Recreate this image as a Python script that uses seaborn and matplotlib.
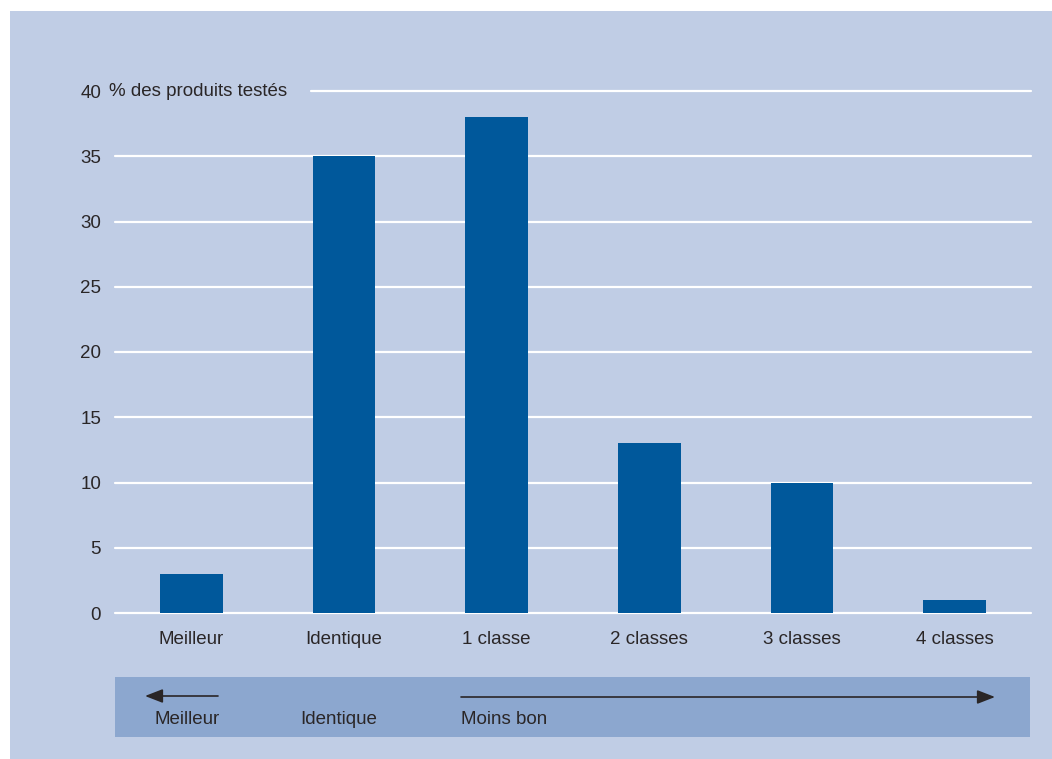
import matplotlib
matplotlib.use("Agg")
import matplotlib.pyplot as plt
from matplotlib.patches import Rectangle, FancyArrowPatch
import seaborn as sns
import pandas as pd

categories = ["Meilleur", "Identique", "1 classe", "2 classes", "3 classes", "4 classes"]
values = [3, 35, 38, 13, 10, 1]
yticks = [0, 5, 10, 15, 20, 25, 30, 35, 40]
y_title = "% des produits testés"
band_labels = ["Meilleur", "Identique", "Moins bon"]

PANEL = "#c0cde5"
BAND = "#8ca7cf"
BAR = "#00589b"
TXT = "#2a2627"
FS = 13.5

sns.set_theme(style="white")
plt.rcParams["font.family"] = ["Liberation Sans", "DejaVu Sans"]

W, H = 1052, 759
fig = plt.figure(figsize=(W / 100, H / 100), dpi=100, facecolor="white")

def fx(px):
    return px / W

def fy(py):
    return 1 - py / H

# background panel
fig.patches.append(Rectangle((fx(10), 0), 1 - fx(10), fy(11), transform=fig.transFigure,
                             facecolor=PANEL, edgecolor="none", zorder=-5))

ax = fig.add_axes([fx(115), fy(613), fx(1031) - fx(115), fy(91) - fy(613)])
ax.set_facecolor("none")
ax.set_zorder(1)

df = pd.DataFrame({"cat": categories, "val": values})
sns.barplot(data=df, x="cat", y="val", color=BAR, width=0.41, saturation=1, ax=ax,
            zorder=3, linewidth=0, edgecolor="none")

ax.set_xlim(-0.5, 5.5)
ax.set_ylim(0, 40)
ax.set_yticks(yticks)
ax.set_yticklabels([str(t) for t in yticks], fontsize=FS, color=TXT)
ax.tick_params(axis="y", length=0, pad=10)
ax.tick_params(axis="x", length=0, pad=13, labelsize=FS, labelcolor=TXT)
ax.set_xlabel("")
ax.set_ylabel("")
for s in ax.spines.values():
    s.set_visible(False)

# white gridlines; the top one starts after the axis title
for t in yticks[:-1]:
    ax.axhline(t, color="white", lw=1.6, zorder=1, clip_on=False)
ax.axhline(40, xmin=(311 - 115) / 916, xmax=1, color="white", lw=1.6, zorder=1, clip_on=False)

fig.text(fx(109), fy(91), y_title, fontsize=FS, color=TXT, ha="left", va="center", zorder=5)

# bottom band with direction arrows
fig.patches.append(Rectangle((fx(115), fy(737)), fx(1030) - fx(115), fy(677) - fy(737),
                             transform=fig.transFigure, facecolor=BAND, edgecolor="none", zorder=2))
arrow = dict(arrowstyle="-|>,head_length=0.9,head_width=0.35", color=TXT, lw=1.2,
             shrinkA=0, shrinkB=0, mutation_scale=12, zorder=6)
fig.add_artist(FancyArrowPatch((fx(218), fy(696)), (fx(145), fy(696)),
                               transform=fig.transFigure, **arrow))
fig.add_artist(FancyArrowPatch((fx(461), fy(697)), (fx(995), fy(697)),
                               transform=fig.transFigure, **arrow))
for x, lab in zip([154, 300, 461], band_labels):
    fig.text(fx(x), fy(719), lab, fontsize=FS, color=TXT, ha="left", va="center", zorder=6)

fig.savefig("out.png", dpi=100, facecolor="white")
